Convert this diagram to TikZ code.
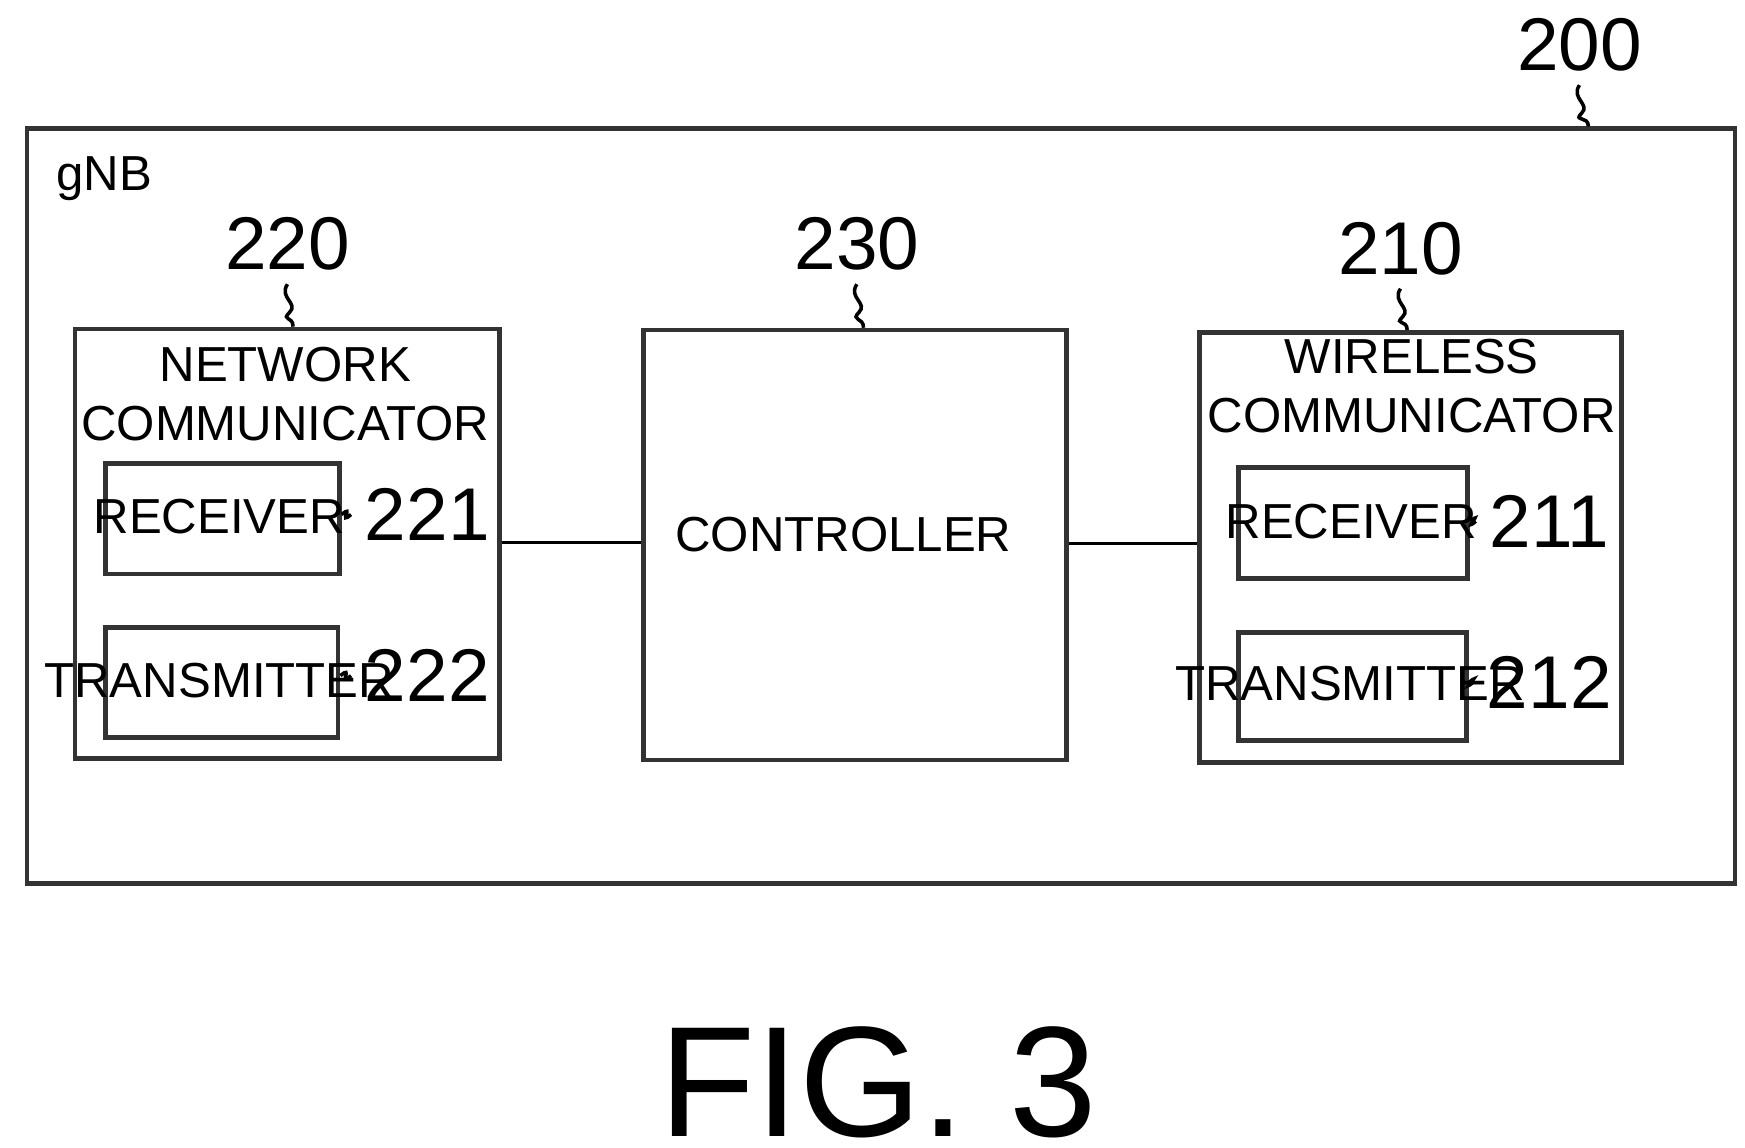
\documentclass[tikz,border=0pt]{standalone}
\usepackage{fontspec}
\setmainfont{Liberation Sans}
\usetikzlibrary{positioning}
\tikzstyle{block} = [rectangle, draw=black!80, line width=1.2pt, anchor=north west, inner sep=0pt]
\tikzstyle{word} = [font=\fontsize{12.5}{15}\selectfont, align=center]
\tikzstyle{refnum} = [font=\fontsize{19}{20}\selectfont]
\tikzstyle{lead} = [line width=0.9pt]

\begin{document}
\begin{tikzpicture}[x=0.01cm, y=-0.01cm]
\useasboundingbox (0,0) rectangle (1560,1026);

\node (gnb) [block, minimum width=15.26cm, minimum height=6.74cm] at (22,113) {};
\node (gnblabel) [word, anchor=west] at (38,160) {gNB};
\node (n200) [refnum] at (1412,40) {200};

\node (netcom) [block, minimum width=3.79cm, minimum height=3.84cm] at (65,292) {};
\node (n220) [refnum] at (257,218) {220};
\node [word] at (255,352) {NETWORK\\COMMUNICATOR};
\node (netrx) [block, minimum width=2.09cm, minimum height=0.99cm] at (92,412) {};
\node [word] at (196,462) {RECEIVER};
\node (nettx) [block, minimum width=2.08cm, minimum height=0.98cm] at (92,559) {};
\node [word] at (196,608) {TRANSMITTER};
\node (n221) [refnum] at (382,460) {221};
\node (n222) [refnum] at (382,604) {222};

\node (ctrl) [block, minimum width=3.78cm, minimum height=3.84cm] at (573,293) {};
\node [word] at (754,478) {CONTROLLER};
\node (n230) [refnum] at (766,218) {230};

\node (wlcom) [block, minimum width=3.77cm, minimum height=3.84cm] at (1070,295) {};
\node (n210) [refnum] at (1252,222) {210};
\node [word] at (1262,345) {WIRELESS\\COMMUNICATOR};
\node (wlrx) [block, minimum width=2.05cm, minimum height=0.99cm] at (1105,416) {};
\node [word] at (1208,466) {RECEIVER};
\node (wltx) [block, minimum width=2.04cm, minimum height=0.97cm] at (1105,563) {};
\node [word] at (1207,611) {TRANSMITTER};
\node (n211) [refnum] at (1385,466) {211};
\node (n212) [refnum] at (1385,610) {212};

% connectors
\draw [lead] (netcom.east |- 0,485) -- (ctrl.west |- 0,485);
\draw [lead] (ctrl.east |- 0,486) -- (wlcom.west |- 0,486);

% leaders
\draw [lead] (n200.south) .. controls +(-8,12) and +(8,-8) .. +(2,25) .. controls +(-8,8) and +(0,-10) .. (1420,113);
\draw [lead] (n220.south) .. controls +(-8,12) and +(8,-8) .. +(2,25) .. controls +(-8,8) and +(0,-10) .. (262,292);
\draw [lead] (n230.south) .. controls +(-8,12) and +(8,-8) .. +(2,25) .. controls +(-8,8) and +(0,-10) .. (772,293);
\draw [lead] (n210.south) .. controls +(-8,12) and +(8,-8) .. +(2,25) .. controls +(-8,8) and +(0,-10) .. (1258,295);
\foreach \num/\blk in {n221/netrx, n222/nettx, n211/wlrx, n212/wltx}
  \draw [lead] (\blk.east |- \num.west) .. controls +(12,-10) and +(-12,10) .. (\num.west);

\node (fig) [font=\fontsize{40}{44}\selectfont] at (785,968) {FIG. 3};
\end{tikzpicture}
\end{document}
